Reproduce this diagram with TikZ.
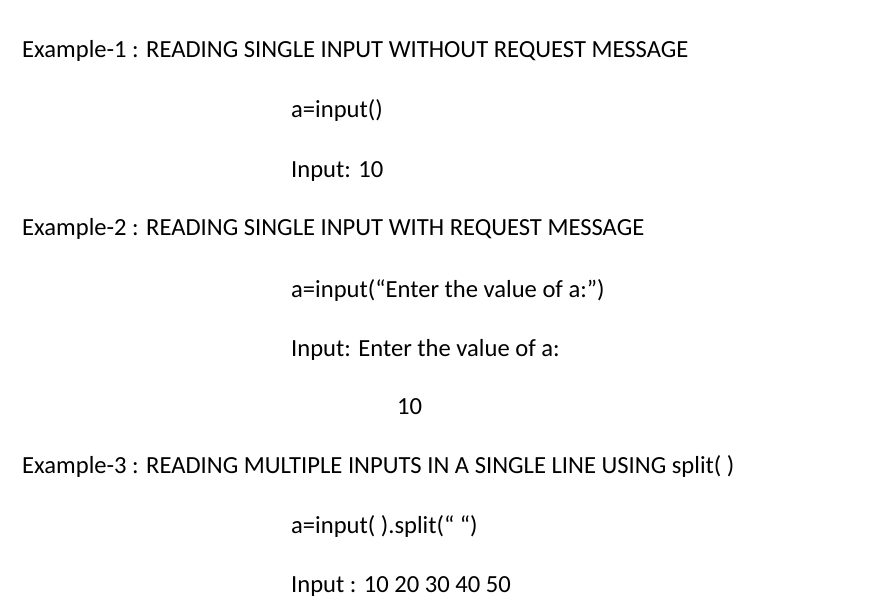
\documentclass[tikz,border=0pt]{standalone}
\usepackage{fontspec}
\setmainfont{Carlito}
\begin{document}
\begin{tikzpicture}[x=1pt,y=-1pt,
		line/.style={anchor=base west, inner sep=0pt, font=\fontsize{24.6}{29}\selectfont}]
	\useasboundingbox (0,0) rectangle (894,611);
	\node (ex1) [line] at (22,57) {Example-1 : READING SINGLE INPUT WITHOUT REQUEST MESSAGE};
	\node (code1) [line] at (291,117) {a=input()};
	\node (in1) [line] at (291,177) {Input: 10};
	\node (ex2) [line] at (22,235) {Example-2 : READING SINGLE INPUT WITH REQUEST MESSAGE};
	\node (code2) [line] at (291,297) {a=input(“Enter the value of a:”)};
	\node (in2) [line] at (291,356) {Input: Enter the value of a:};
	\node (val2) [line] at (397,414) {10};
	\node (ex3) [line] at (22,473) {Example-3 : READING MULTIPLE INPUTS IN A SINGLE LINE USING split( )};
	\node (code3) [line] at (291,533) {a=input( ).split(“ “)};
	\node (in3) [line] at (291,592) {Input : 10 20 30 40 50};
\end{tikzpicture}
\end{document}
